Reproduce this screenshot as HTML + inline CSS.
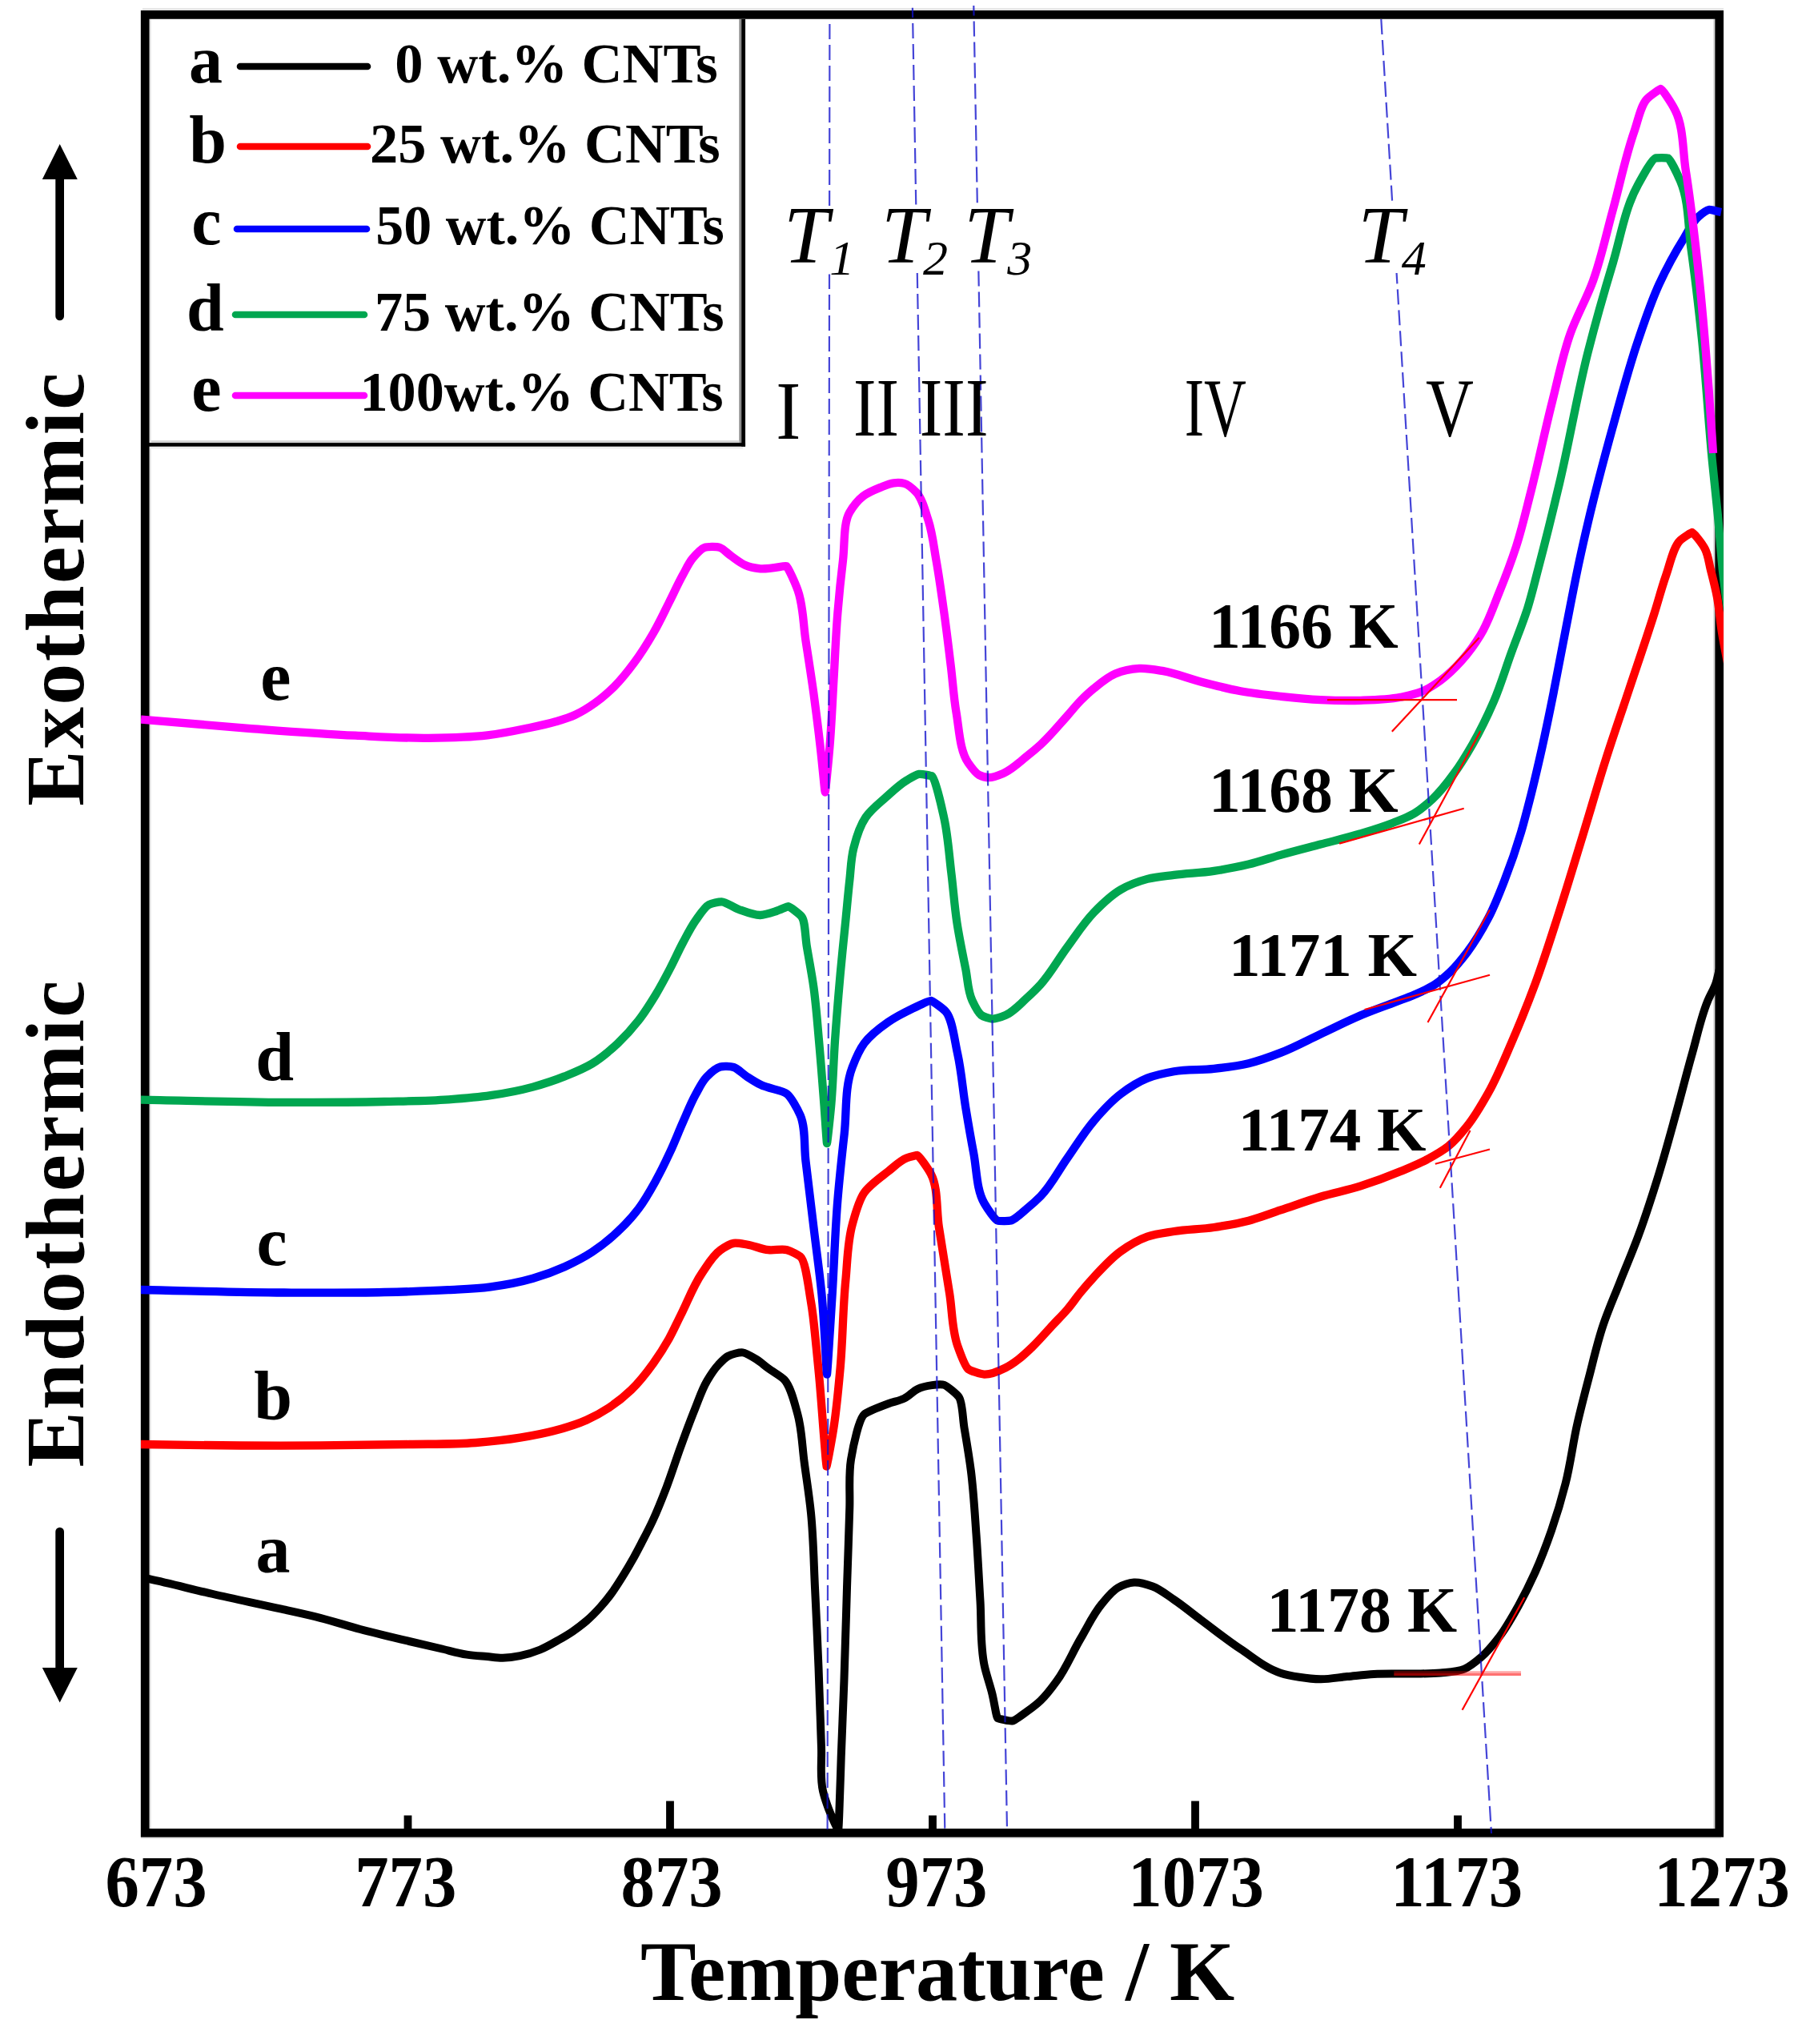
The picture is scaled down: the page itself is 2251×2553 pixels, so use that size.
<!DOCTYPE html>
<html lang="en"><head><meta charset="utf-8"><title>DSC curves</title>
<style>html,body{margin:0;padding:0;background:#fff}svg{display:block}text{font-family:"Liberation Serif",serif;fill:#000}</style></head><body>
<svg width="2251" height="2553" viewBox="0 0 2251 2553">
<rect width="2251" height="2553" fill="#fff"/>
<defs><clipPath id="cp"><rect x="176" y="13" width="1977" height="2282"/></clipPath></defs>
<rect x="186" y="24" width="742" height="531" fill="#fff"/>
<rect x="178" y="10" width="1975" height="3" fill="#e6e6e6"/>
<rect x="186.3" y="24" width="2.4" height="2260" fill="#e2e2e2"/>
<rect x="2140.3" y="24" width="2.2" height="2260" fill="#d2d2d2"/>
<rect x="176" y="2294" width="1974" height="2.6" fill="#e2e2e2"/>
<rect x="923.3" y="24" width="3" height="529.2" fill="#8c8c8c"/>
<rect x="189" y="550.2" width="734.4" height="3" fill="#d2d2d2"/>
<rect x="186" y="557.6" width="742" height="2.9" fill="#ececec"/>
<rect x="926.2" y="24" width="4.85" height="533.7" fill="#000"/>
<rect x="186" y="553.1" width="745.05" height="4.6" fill="#000"/>
<rect x="181.2" y="18.4" width="1966.5" height="2270.9" fill="none" stroke="#000" stroke-width="10.7"/>
<rect x="504.6" y="2267.5" width="9.8" height="18.5" fill="#000"/>
<rect x="832.1" y="2249.5" width="9.8" height="36.5" fill="#000"/>
<rect x="1160.1" y="2267.5" width="9.8" height="18.5" fill="#000"/>
<rect x="1488.1" y="2249.5" width="9.8" height="36.5" fill="#000"/>
<rect x="1816.1" y="2267.5" width="9.8" height="18.5" fill="#000"/>
<g clip-path="url(#cp)" fill="none" stroke-linejoin="round" stroke-linecap="butt">
<path d="M176.0 1970.0C179.4 1970.7 182.9 1971.5 186.3 1972.2C213.0 1978.0 239.4 1984.9 266.0 1991.0C294.4 1997.5 323.0 2003.3 351.4 2009.7C367.6 2013.3 383.9 2016.7 400.0 2020.8C416.8 2025.1 433.3 2030.5 450.0 2035.0C466.6 2039.4 483.3 2043.4 500.0 2047.4C516.6 2051.4 533.3 2055.2 550.0 2059.0C561.0 2061.5 571.9 2064.9 583.1 2066.6C591.3 2067.9 599.7 2068.3 608.0 2069.0C614.7 2069.6 621.3 2070.8 628.0 2070.7C635.2 2070.6 642.6 2069.6 649.7 2068.2C658.2 2066.5 666.7 2063.8 674.7 2060.5C682.6 2057.2 690.1 2052.8 697.6 2048.5C703.6 2045.1 709.5 2041.7 715.2 2037.8C721.3 2033.7 727.2 2029.2 732.8 2024.4C739.1 2019.0 744.9 2013.0 750.4 2006.8C755.4 2001.2 760.1 1995.3 764.5 1989.2C770.0 1981.7 774.9 1973.7 779.8 1965.7C783.8 1959.1 787.7 1952.4 791.5 1945.7C795.6 1938.4 799.4 1930.9 803.3 1923.4C807.5 1915.3 811.7 1907.2 815.5 1899.0C821.9 1885.3 827.4 1871.1 832.8 1857.0C839.1 1840.4 844.3 1823.5 850.4 1806.8C856.1 1791.1 861.8 1775.3 868.1 1759.8C872.9 1748.0 876.8 1735.5 883.3 1724.6C887.4 1717.6 891.9 1710.5 897.4 1704.6C901.0 1700.8 905.2 1696.2 909.2 1694.0C914.0 1691.3 923.9 1688.9 927.9 1689.4C931.7 1689.8 939.2 1694.4 944.4 1697.6C949.9 1701.0 954.8 1705.5 960.0 1709.3C966.5 1714.1 975.5 1718.9 979.7 1723.3C987.7 1731.8 992.3 1751.7 996.4 1766.5C1001.7 1785.8 1002.0 1806.5 1004.7 1826.5C1007.5 1847.6 1010.9 1868.6 1013.0 1889.7C1016.1 1920.7 1016.5 1951.9 1018.0 1983.0C1019.6 2016.3 1021.2 2049.5 1022.5 2082.8C1023.8 2116.1 1024.8 2149.4 1026.0 2182.7C1026.7 2200.8 1023.9 2219.5 1028.0 2237.0C1029.4 2243.1 1031.4 2249.1 1033.5 2255.0C1037.2 2265.6 1046.4 2285.8 1047.0 2286.0C1047.8 2286.3 1048.6 2255.3 1049.2 2240.0C1049.8 2225.0 1050.2 2210.0 1050.7 2195.0C1051.8 2163.3 1053.3 2131.7 1054.4 2100.0C1055.8 2061.0 1056.8 2022.0 1058.0 1983.0C1059.1 1949.7 1060.3 1916.3 1061.3 1883.0C1061.9 1863.0 1059.9 1842.6 1063.0 1823.0C1066.1 1803.8 1073.1 1772.2 1079.6 1766.5C1083.2 1763.3 1099.4 1757.0 1109.6 1753.2C1116.2 1750.7 1123.4 1749.7 1129.6 1746.6C1135.6 1743.6 1140.7 1737.5 1146.2 1734.9C1155.2 1730.6 1174.5 1728.1 1179.5 1729.9C1183.0 1731.2 1195.0 1741.0 1197.8 1744.9C1202.4 1751.4 1202.4 1770.4 1204.5 1783.2C1207.5 1800.9 1210.5 1818.7 1212.8 1836.5C1216.2 1863.0 1217.6 1889.7 1219.5 1916.4C1221.5 1944.1 1222.8 1971.9 1224.5 1999.6C1226.1 2026.2 1224.2 2053.5 1229.5 2079.5C1232.0 2091.8 1236.5 2103.7 1239.5 2116.0C1241.9 2125.9 1244.7 2145.0 1246.1 2146.0C1247.0 2146.6 1261.0 2150.1 1264.4 2149.5C1268.4 2148.9 1276.8 2142.0 1282.7 2137.8C1288.7 2133.5 1294.7 2129.1 1300.0 2124.0C1307.6 2116.8 1313.9 2108.2 1320.0 2099.7C1332.0 2083.3 1339.6 2064.0 1350.0 2046.4C1358.6 2031.8 1365.7 2015.9 1376.6 2003.0C1382.6 1995.8 1389.3 1987.1 1396.6 1983.0C1402.0 1980.0 1410.8 1976.9 1416.5 1976.5C1423.0 1976.0 1432.5 1978.8 1439.8 1981.5C1449.5 1985.1 1457.8 1992.2 1466.5 1998.0C1478.0 2005.7 1488.7 2014.7 1499.8 2023.0C1516.4 2035.3 1532.5 2048.3 1549.7 2059.7C1565.9 2070.4 1581.4 2083.9 1599.7 2089.7C1607.2 2092.1 1615.2 2093.5 1623.0 2094.7C1631.8 2096.1 1640.7 2097.2 1649.6 2097.3C1660.7 2097.4 1671.8 2095.1 1682.9 2094.0C1694.0 2093.0 1705.1 2091.6 1716.2 2091.0C1732.8 2090.0 1749.5 2090.9 1766.2 2090.5C1777.3 2090.3 1788.5 2090.6 1799.5 2089.5C1809.5 2088.5 1821.0 2088.2 1829.4 2084.5C1836.4 2081.5 1843.7 2075.4 1850.0 2070.0C1858.8 2062.4 1866.3 2053.0 1873.4 2043.7C1882.4 2031.8 1889.6 2018.6 1896.9 2005.5C1904.3 1992.1 1911.1 1978.4 1917.4 1964.4C1925.1 1947.2 1931.8 1929.4 1938.0 1911.6C1944.7 1892.3 1950.6 1872.7 1955.6 1852.9C1961.8 1828.4 1964.7 1803.1 1970.3 1778.5C1974.8 1758.8 1979.9 1739.3 1985.0 1719.8C1990.6 1698.2 1995.5 1676.3 2002.6 1655.2C2008.6 1637.3 2016.3 1619.9 2023.2 1602.3C2030.9 1582.7 2039.3 1563.4 2046.6 1543.6C2055.2 1520.4 2062.7 1496.8 2070.1 1473.2C2078.6 1446.0 2086.0 1418.4 2093.6 1390.9C2100.6 1365.5 2107.0 1339.9 2114.2 1314.6C2120.3 1293.0 2124.7 1270.7 2133.3 1250.0C2136.4 1242.7 2140.7 1235.8 2143.3 1228.3C2145.3 1222.4 2146.4 1216.1 2148.0 1210.0" stroke="#000000" stroke-width="10"/>
<path d="M176.0 1804.0C217.3 1804.5 258.7 1805.3 300.0 1805.5C333.3 1805.7 366.7 1805.6 400.0 1805.4C437.0 1805.2 474.0 1804.7 511.0 1804.0C538.7 1803.5 566.6 1804.1 594.2 1802.0C612.7 1800.6 631.3 1798.7 649.7 1795.7C663.7 1793.4 677.7 1790.9 691.4 1787.3C705.5 1783.6 719.8 1779.5 733.0 1773.5C742.6 1769.1 751.9 1764.0 760.7 1758.2C770.6 1751.7 780.0 1744.2 788.5 1736.0C798.9 1726.0 807.8 1714.4 816.2 1702.7C823.2 1692.9 829.7 1682.7 835.6 1672.2C840.9 1662.7 845.3 1652.7 850.2 1643.0C859.1 1625.3 865.9 1606.3 877.0 1590.0C883.8 1580.0 890.4 1568.2 899.8 1561.5C904.6 1558.0 911.8 1553.6 916.5 1552.8C920.6 1552.1 927.6 1553.6 933.1 1554.5C942.1 1555.9 950.8 1560.2 959.8 1561.2C967.5 1562.1 976.4 1559.4 983.1 1561.2C988.4 1562.6 997.5 1567.8 999.7 1569.5C1006.4 1574.8 1009.7 1607.0 1013.0 1626.0C1016.3 1644.7 1017.7 1663.8 1019.7 1682.7C1020.9 1694.0 1022.0 1705.3 1023.0 1716.6C1025.6 1744.3 1027.4 1772.1 1029.7 1799.8C1030.6 1810.4 1032.1 1831.0 1032.4 1831.5C1032.8 1832.2 1038.9 1799.4 1041.4 1783.2C1045.3 1758.3 1047.4 1733.1 1049.7 1708.0C1052.9 1671.9 1052.8 1635.6 1056.3 1599.5C1058.6 1576.1 1058.5 1552.0 1064.7 1529.5C1068.4 1515.9 1072.6 1499.6 1079.6 1489.6C1086.2 1480.1 1099.1 1471.2 1109.6 1463.0C1117.1 1457.1 1124.1 1449.7 1132.9 1446.3C1137.1 1444.7 1145.4 1442.9 1146.2 1443.0C1147.8 1443.2 1159.0 1458.8 1162.9 1466.3C1172.1 1483.9 1169.5 1510.7 1172.9 1532.9C1177.2 1560.6 1181.9 1588.3 1186.2 1616.0C1189.6 1637.7 1189.0 1660.5 1196.2 1681.0C1199.7 1690.9 1205.3 1706.9 1209.5 1710.0C1212.3 1712.1 1224.5 1716.3 1229.5 1716.6C1236.1 1716.9 1247.9 1712.4 1256.1 1708.3C1261.7 1705.5 1267.0 1701.8 1272.0 1698.0C1278.2 1693.4 1283.8 1687.9 1289.4 1682.5C1298.8 1673.5 1307.1 1663.5 1316.0 1654.0C1321.8 1647.8 1327.8 1641.9 1333.3 1635.5C1339.2 1628.6 1344.2 1621.0 1350.0 1614.0C1355.4 1607.5 1360.9 1601.2 1366.6 1595.0C1377.1 1583.7 1387.5 1571.9 1399.9 1563.0C1410.1 1555.7 1421.4 1548.9 1433.2 1544.7C1443.7 1540.9 1455.3 1539.8 1466.5 1538.0C1483.0 1535.4 1499.9 1535.5 1516.4 1533.0C1530.9 1530.8 1545.5 1528.4 1559.7 1524.7C1573.3 1521.1 1586.4 1515.8 1599.7 1511.4C1616.3 1505.9 1632.8 1499.7 1649.6 1494.7C1666.1 1489.8 1683.2 1486.6 1699.6 1481.4C1716.5 1476.1 1733.2 1469.9 1749.5 1463.1C1760.7 1458.4 1772.1 1453.9 1782.8 1448.1C1792.0 1443.1 1801.4 1438.0 1809.4 1431.5C1818.2 1424.4 1825.6 1415.4 1832.7 1406.5C1843.0 1393.6 1851.3 1378.9 1859.4 1364.5C1870.8 1344.2 1879.4 1322.4 1888.7 1301.0C1899.1 1276.9 1908.9 1252.6 1918.0 1228.0C1928.7 1199.0 1937.9 1169.4 1947.4 1140.0C1957.5 1108.5 1967.0 1076.7 1976.7 1045.0C1986.6 1012.7 1995.8 980.2 2006.1 948.0C2015.5 918.5 2025.7 889.3 2035.4 860.0C2046.0 828.2 2056.9 796.6 2067.0 764.6C2071.8 749.4 2075.7 734.0 2081.0 719.0C2086.3 704.0 2090.3 682.8 2099.0 674.8C2102.2 671.8 2112.9 665.0 2113.8 665.0C2115.1 665.0 2126.2 678.3 2130.0 686.0C2133.9 693.8 2134.8 703.3 2137.0 712.0C2139.8 723.0 2142.7 733.9 2144.8 745.0C2147.7 759.8 2148.6 775.1 2151.0 790.0C2153.3 804.1 2156.2 818.0 2158.8 832.0" stroke="#ff0000" stroke-width="10.3"/>
<path d="M176.0 1611.0C235.7 1612.2 295.3 1614.2 355.0 1614.5C396.7 1614.7 438.3 1615.0 480.0 1614.0C506.7 1613.4 533.4 1612.8 560.0 1611.2C577.6 1610.2 595.3 1609.7 612.8 1607.3C630.6 1604.9 648.5 1601.7 665.7 1596.7C679.2 1592.8 692.5 1588.0 705.3 1582.2C717.1 1576.8 728.9 1570.8 739.7 1563.7C750.9 1556.3 761.6 1547.8 771.4 1538.6C780.9 1529.7 790.0 1519.9 797.8 1509.5C805.8 1498.8 812.4 1486.9 818.9 1475.2C825.6 1463.2 831.6 1450.7 837.4 1438.2C843.0 1426.0 847.8 1413.5 853.3 1401.2C858.4 1389.7 863.0 1377.8 869.1 1366.8C873.3 1359.3 876.9 1351.1 882.8 1345.0C887.6 1340.0 895.3 1333.7 899.8 1332.5C903.4 1331.5 912.5 1331.8 916.5 1333.0C921.4 1334.5 927.4 1341.0 933.1 1344.7C938.5 1348.2 944.0 1351.8 949.8 1354.7C960.3 1360.0 977.2 1361.5 983.1 1366.4C988.3 1370.8 995.9 1384.2 999.7 1393.0C1006.5 1409.1 1004.2 1430.7 1006.4 1449.6C1009.7 1477.4 1013.1 1505.1 1016.4 1532.9C1019.7 1560.6 1023.7 1588.3 1026.4 1616.1C1029.6 1649.5 1032.6 1716.6 1033.0 1716.6C1033.4 1716.6 1037.6 1649.5 1039.7 1616.0C1042.1 1577.2 1043.1 1538.3 1046.3 1499.6C1048.6 1471.8 1051.6 1444.0 1054.7 1416.3C1057.8 1388.5 1054.9 1358.8 1064.7 1333.0C1068.6 1322.7 1073.1 1311.8 1079.6 1303.0C1087.4 1292.5 1098.7 1284.1 1109.6 1276.5C1118.9 1270.0 1129.3 1264.8 1139.6 1259.8C1147.2 1256.1 1160.7 1249.5 1162.9 1249.8C1164.9 1250.1 1177.7 1259.5 1181.2 1263.2C1189.6 1272.2 1192.2 1298.4 1196.2 1316.4C1201.0 1338.3 1202.6 1360.8 1206.2 1383.0C1209.3 1401.9 1212.5 1420.8 1216.1 1439.6C1220.2 1460.8 1219.6 1485.8 1229.5 1502.9C1233.7 1510.1 1242.7 1523.3 1246.1 1524.5C1248.2 1525.2 1259.1 1525.5 1262.8 1524.5C1268.3 1523.1 1276.3 1514.9 1282.7 1509.6C1288.7 1504.7 1294.6 1499.5 1300.0 1494.0C1313.4 1480.2 1322.1 1462.3 1333.3 1446.5C1344.3 1430.9 1354.2 1414.2 1366.6 1399.8C1376.8 1387.9 1387.5 1375.9 1399.9 1366.5C1410.1 1358.7 1421.3 1351.4 1433.2 1346.6C1443.7 1342.4 1455.3 1340.2 1466.5 1338.2C1482.9 1335.3 1499.9 1336.8 1516.4 1334.9C1530.9 1333.3 1545.6 1331.6 1559.7 1328.2C1573.3 1324.9 1586.6 1320.0 1599.7 1314.9C1616.8 1308.3 1633.0 1299.4 1649.6 1291.6C1666.3 1283.8 1682.7 1275.4 1699.6 1268.3C1713.8 1262.3 1728.4 1257.2 1742.8 1251.7C1750.6 1248.7 1758.5 1246.0 1766.2 1242.7C1775.3 1238.7 1784.6 1234.8 1792.8 1229.4C1800.0 1224.6 1806.6 1218.8 1812.8 1212.8C1820.1 1205.7 1826.5 1197.6 1832.7 1189.5C1842.9 1176.0 1851.6 1161.2 1859.4 1146.2C1867.2 1131.2 1873.3 1115.3 1879.4 1099.6C1887.1 1079.9 1894.0 1059.9 1900.0 1039.6C1903.1 1029.2 1905.8 1018.7 1908.5 1008.2C1914.9 983.9 1920.6 959.3 1926.1 934.8C1931.3 911.4 1936.1 887.9 1940.8 864.4C1945.9 839.0 1950.5 813.5 1955.5 788.0C1961.2 758.6 1966.7 729.2 1973.0 700.0C1976.4 684.2 1980.0 668.4 1983.7 652.6C1993.2 612.4 2003.8 572.5 2014.8 532.7C2024.7 497.0 2034.1 461.1 2046.0 426.0C2054.1 402.1 2062.0 377.9 2072.5 355.0C2081.6 335.2 2092.0 315.9 2103.6 297.4C2109.2 288.4 2113.6 277.6 2121.4 270.8C2125.3 267.4 2131.9 262.5 2134.7 262.0C2137.4 261.5 2144.9 264.0 2150.0 265.0" stroke="#0000ff" stroke-width="10.3"/>
<path d="M176.0 1373.7C235.7 1374.8 295.3 1376.7 355.0 1376.9C396.7 1377.0 438.3 1376.9 480.0 1376.0C506.7 1375.4 533.4 1375.3 560.0 1373.4C577.6 1372.1 595.3 1370.8 612.8 1368.2C630.6 1365.6 648.4 1362.3 665.7 1357.6C679.1 1353.9 692.4 1349.6 705.3 1344.4C717.0 1339.7 729.0 1335.0 739.7 1328.5C751.1 1321.5 761.6 1312.6 771.4 1303.4C780.9 1294.5 789.8 1284.7 797.8 1274.4C805.6 1264.4 812.3 1253.5 818.9 1242.7C825.5 1231.8 831.5 1220.4 837.4 1209.0C842.9 1198.4 847.7 1187.5 853.3 1177.0C858.3 1167.7 863.0 1158.1 869.1 1149.5C874.0 1142.6 880.3 1132.7 885.5 1130.0C888.8 1128.3 897.8 1126.2 901.5 1126.3C906.9 1126.5 915.7 1133.3 923.1 1136.0C931.7 1139.1 942.0 1143.2 949.8 1143.0C955.6 1142.8 963.3 1140.1 969.8 1138.0C974.9 1136.3 983.2 1132.1 984.7 1132.2C986.6 1132.3 998.9 1141.8 1001.4 1145.0C1006.0 1150.9 1005.8 1170.5 1008.0 1183.2C1010.8 1199.9 1014.1 1216.5 1016.4 1233.2C1019.5 1255.3 1021.0 1277.6 1023.0 1299.8C1025.5 1327.5 1027.6 1355.3 1029.7 1383.0C1030.8 1398.0 1032.7 1428.0 1033.0 1428.0C1033.3 1428.0 1036.6 1398.0 1038.0 1383.0C1040.6 1355.3 1041.1 1327.5 1043.0 1299.8C1045.0 1272.0 1047.2 1244.2 1049.7 1216.5C1051.7 1194.3 1054.1 1172.2 1056.3 1150.0C1058.0 1133.1 1059.4 1116.2 1061.3 1099.4C1062.8 1086.0 1063.0 1072.3 1066.3 1059.4C1069.6 1046.2 1074.0 1031.7 1081.3 1021.0C1087.5 1011.8 1097.6 1004.0 1106.3 996.2C1114.8 988.6 1123.1 980.3 1132.9 974.5C1137.7 971.6 1144.0 967.5 1147.9 966.9C1151.8 966.3 1163.6 969.1 1164.5 969.5C1167.5 970.8 1175.7 1004.8 1179.5 1022.8C1184.2 1044.8 1185.6 1067.6 1188.3 1090.0C1190.9 1111.0 1192.3 1132.1 1195.5 1153.0C1198.4 1172.1 1202.4 1191.0 1206.2 1209.9C1208.9 1223.2 1208.8 1237.7 1214.5 1249.8C1217.5 1256.2 1222.3 1265.6 1226.1 1268.1C1228.6 1269.8 1235.9 1272.3 1239.5 1272.5C1243.9 1272.8 1251.1 1270.2 1256.1 1268.1C1266.0 1263.9 1274.3 1254.2 1282.7 1246.5C1288.7 1241.0 1294.5 1235.4 1300.0 1229.4C1312.8 1215.3 1321.9 1198.1 1333.3 1182.8C1344.1 1168.2 1354.0 1152.5 1366.6 1139.5C1376.7 1129.1 1387.5 1118.4 1399.9 1111.2C1410.1 1105.3 1421.7 1101.0 1433.2 1097.9C1444.0 1095.0 1455.4 1094.3 1466.5 1092.9C1483.1 1090.7 1499.9 1090.4 1516.4 1087.9C1530.9 1085.7 1545.4 1083.1 1559.7 1079.6C1573.2 1076.3 1586.3 1071.7 1599.7 1067.9C1616.3 1063.2 1633.0 1059.0 1649.6 1054.6C1666.3 1050.2 1683.1 1046.3 1699.6 1041.3C1713.0 1037.2 1726.5 1033.1 1739.5 1028.0C1748.5 1024.4 1757.9 1021.2 1766.2 1016.3C1774.6 1011.3 1782.3 1004.7 1789.5 998.0C1799.5 988.6 1808.0 977.5 1816.1 966.4C1824.7 954.8 1832.2 942.2 1839.4 929.7C1849.3 912.4 1858.1 894.3 1866.0 876.0C1874.5 856.2 1880.6 835.3 1888.0 815.0C1894.8 796.2 1902.6 777.7 1908.5 758.7C1913.5 742.7 1917.3 726.3 1921.6 710.0C1930.9 674.7 1939.6 639.3 1948.0 603.8C1960.9 549.3 1969.9 493.8 1983.7 439.5C1993.2 402.3 2003.7 365.3 2014.8 328.5C2024.6 295.8 2029.6 260.6 2046.0 231.0C2052.4 219.4 2063.9 198.6 2068.0 197.5C2069.6 197.1 2082.5 197.1 2083.6 197.5C2086.0 198.3 2094.8 216.2 2099.0 226.0C2110.1 252.0 2108.5 282.5 2112.5 310.8C2117.7 347.7 2121.9 384.7 2125.8 421.8C2131.2 473.4 2134.0 525.3 2139.0 577.0C2141.2 599.7 2143.8 622.3 2146.0 645.0C2148.3 669.3 2149.8 693.7 2152.5 718.0C2154.4 734.7 2156.7 751.3 2158.8 768.0" stroke="#00a650" stroke-width="10.3"/>
<path d="M176.0 898.7C220.9 902.4 265.8 906.4 310.8 909.8C355.2 913.1 399.6 916.6 444.0 918.7C473.5 920.1 503.1 922.0 532.7 921.8C558.1 921.6 583.7 921.5 608.8 918.4C625.2 916.4 641.5 913.2 657.7 909.8C670.0 907.3 682.3 904.9 694.3 901.3C702.5 898.8 710.9 896.3 718.7 892.7C727.3 888.7 735.4 883.6 743.1 878.1C751.8 871.9 759.9 864.8 767.5 857.3C776.5 848.4 784.4 838.2 792.0 828.0C800.9 816.0 808.9 803.2 816.4 790.2C823.5 777.9 829.5 765.0 835.9 752.3C841.7 740.9 846.8 729.2 853.0 718.1C856.9 711.1 860.1 703.5 865.2 697.4C869.4 692.4 876.3 685.4 879.9 684.0C883.4 682.7 895.2 682.5 899.4 684.0C903.4 685.4 909.0 691.4 914.0 694.9C919.6 698.8 924.9 703.3 931.1 705.9C936.4 708.1 942.5 709.3 948.2 710.1C959.4 711.6 980.8 706.1 982.4 707.1C984.0 708.0 992.8 726.7 996.5 737.0C1003.6 756.7 1003.2 778.8 1006.4 799.7C1009.8 821.9 1013.3 844.1 1016.4 866.3C1019.4 888.5 1022.2 910.7 1024.7 932.9C1026.9 951.7 1030.3 989.5 1030.7 989.5C1031.1 989.5 1034.8 951.8 1036.4 932.9C1038.7 905.2 1039.8 877.4 1041.4 849.7C1043.1 821.9 1044.0 794.1 1046.3 766.4C1048.1 744.2 1050.3 721.9 1053.0 699.8C1055.4 679.8 1053.3 653.6 1061.3 639.9C1064.8 634.0 1071.5 625.0 1078.0 619.9C1084.1 615.1 1092.1 611.9 1099.6 608.9C1105.0 606.7 1110.6 604.0 1116.3 603.3C1120.6 602.8 1126.4 603.0 1129.6 603.9C1134.1 605.2 1141.1 611.3 1144.6 614.9C1151.8 622.4 1155.7 637.9 1159.6 649.9C1164.8 665.9 1166.5 683.1 1169.5 699.8C1173.4 721.9 1176.4 744.2 1179.5 766.4C1182.6 788.6 1185.2 810.8 1187.9 833.0C1190.2 851.9 1191.3 870.9 1194.5 889.6C1198.2 910.9 1198.7 937.5 1209.5 952.9C1212.8 957.6 1218.5 965.6 1222.8 967.9C1225.8 969.5 1232.4 971.2 1236.1 971.2C1240.8 971.2 1247.5 968.4 1252.8 966.2C1264.0 961.5 1273.1 952.3 1282.7 944.6C1288.6 939.9 1294.4 935.1 1300.0 930.0C1312.1 919.0 1322.4 906.2 1333.3 894.0C1338.9 887.7 1344.1 881.0 1350.0 875.0C1355.3 869.7 1360.8 864.5 1366.6 859.8C1374.9 853.0 1383.5 845.6 1393.2 841.5C1402.4 837.6 1413.1 835.4 1423.2 834.9C1433.1 834.4 1443.3 836.5 1453.2 838.2C1469.1 841.0 1484.2 847.4 1499.8 851.5C1516.3 855.8 1532.9 860.1 1549.7 863.2C1566.2 866.2 1583.0 868.0 1599.7 869.8C1616.3 871.6 1632.9 873.3 1649.6 874.1C1666.2 874.9 1683.0 875.3 1699.6 874.8C1716.3 874.3 1733.2 874.0 1749.5 870.8C1758.5 869.0 1767.7 867.3 1776.1 863.8C1784.4 860.3 1792.2 855.1 1799.5 849.8C1809.3 842.7 1818.0 833.9 1826.1 824.9C1834.8 815.2 1842.6 804.4 1849.4 793.2C1859.4 776.7 1865.4 757.9 1872.7 740.0C1880.4 721.1 1887.7 701.9 1894.0 682.5C1901.4 659.6 1906.7 636.0 1912.7 612.6C1922.1 575.8 1929.7 538.5 1939.0 501.7C1946.2 473.4 1951.8 444.5 1961.5 417.0C1969.5 394.4 1981.8 373.3 1990.0 350.7C2000.4 321.9 2006.6 291.6 2014.8 262.0C2023.8 229.4 2030.3 195.9 2041.5 164.0C2046.2 150.5 2049.5 132.1 2057.0 124.0C2060.9 119.8 2073.7 111.0 2074.7 111.0C2076.2 111.0 2087.9 128.6 2092.5 137.6C2103.4 159.2 2101.8 187.8 2105.8 213.0C2112.1 252.8 2116.6 292.9 2121.0 333.0C2126.7 384.5 2130.8 436.3 2134.7 488.0C2136.6 514.0 2138.2 540.0 2140.0 566.0" stroke="#ff00ff" stroke-width="10.3"/>
</g>
<g>
<line x1="1036.4" y1="30" x2="1033.6" y2="2285" stroke-dashoffset="0" stroke="#0f0fcc" stroke-opacity="0.78" stroke-width="2.2" stroke-dasharray="19 7" fill="none"/>
<line x1="1139.9" y1="9.8" x2="1180.3" y2="2285" stroke-dashoffset="6.8" stroke="#0f0fcc" stroke-opacity="0.78" stroke-width="2.2" stroke-dasharray="19 7" fill="none"/>
<line x1="1216.3" y1="7.1" x2="1258" y2="2285" stroke-dashoffset="6.5" stroke="#0f0fcc" stroke-opacity="0.78" stroke-width="2.2" stroke-dasharray="19 7" fill="none"/>
<line x1="1725.3" y1="24" x2="1863" y2="2290" stroke-dashoffset="0" stroke="#0f0fcc" stroke-opacity="0.78" stroke-width="2.2" stroke-dasharray="19 7" fill="none"/>
</g>
<line x1="1741.3" y1="2088.6" x2="1900" y2="2088.6" stroke="#ff0000" stroke-opacity="0.35" stroke-width="2.8"/>
<line x1="1741.3" y1="2091.5" x2="1900" y2="2091.5" stroke="#ff0000" stroke-opacity="0.56" stroke-width="3"/>
<line x1="1658" y1="874.1" x2="1820" y2="874.1" stroke="#ff0000" stroke-width="2.2" fill="none"/>
<line x1="1738.8" y1="913.8" x2="1847.7" y2="796.6" stroke="#ff0000" stroke-width="2.2" fill="none"/>
<line x1="1673" y1="1053.6" x2="1828.7" y2="1009.7" stroke="#ff0000" stroke-width="2.2" fill="none"/>
<line x1="1772.8" y1="1054.6" x2="1849.4" y2="913" stroke="#ff0000" stroke-width="2.2" fill="none"/>
<line x1="1704.6" y1="1261" x2="1861" y2="1217.8" stroke="#ff0000" stroke-width="2.2" fill="none"/>
<line x1="1783.5" y1="1277" x2="1861" y2="1136.2" stroke="#ff0000" stroke-width="2.2" fill="none"/>
<line x1="1792.8" y1="1453.8" x2="1861" y2="1435.5" stroke="#ff0000" stroke-width="2.2" fill="none"/>
<line x1="1798.8" y1="1483.7" x2="1836.5" y2="1412" stroke="#ff0000" stroke-width="2.2" fill="none"/>
<line x1="1826.6" y1="2135.8" x2="1904.2" y2="1995.3" stroke="#ff0000" stroke-width="2.2" fill="none"/>
<line x1="300" y1="83" x2="459" y2="83" stroke="#000000" stroke-width="8.6" stroke-linecap="round"/>
<text transform="translate(235.91 103.00) scale(1.0000 1)" font-size="84.00" style="font-weight:bold" >a</text>
<text transform="translate(493.35 103.00) scale(1.0000 1)" font-size="70.59" style="font-weight:bold" >0 wt.% CNTs</text>
<line x1="300" y1="183" x2="459" y2="183" stroke="#ff0000" stroke-width="8.6" stroke-linecap="round"/>
<text transform="translate(236.19 202.50) scale(1.0000 1)" font-size="84.00" style="font-weight:bold" >b</text>
<text transform="translate(462.01 202.50) scale(1.0000 1)" font-size="70.44" style="font-weight:bold" >25 wt.% CNTs</text>
<line x1="296" y1="286" x2="458" y2="286" stroke="#0000ff" stroke-width="8.6" stroke-linecap="round"/>
<text transform="translate(239.24 305.00) scale(1.0000 1)" font-size="84.00" style="font-weight:bold" >c</text>
<text transform="translate(469.20 305.00) scale(1.0000 1)" font-size="70.08" style="font-weight:bold" >50 wt.% CNTs</text>
<line x1="294" y1="393" x2="455" y2="393" stroke="#00a650" stroke-width="8.6" stroke-linecap="round"/>
<text transform="translate(233.03 413.00) scale(1.0000 1)" font-size="84.00" style="font-weight:bold" >d</text>
<text transform="translate(467.96 413.00) scale(1.0000 1)" font-size="70.28" style="font-weight:bold" >75 wt.% CNTs</text>
<line x1="294" y1="494" x2="455" y2="494" stroke="#ff00ff" stroke-width="8.6" stroke-linecap="round"/>
<text transform="translate(239.35 513.00) scale(1.0000 1)" font-size="84.00" style="font-weight:bold" >e</text>
<text transform="translate(449.38 513.00) scale(1.0000 1)" font-size="70.28" style="font-weight:bold" >100wt.% CNTs</text>
<rect x="984" y="257.5" width="77.90000000000009" height="85.0" fill="#fff"/>
<text style="font-style:italic"><tspan x="979.11" y="328" font-size="101">T</tspan><tspan x="1036.15" y="343" font-size="62">1</tspan></text>
<rect x="1105.8" y="255.5" width="77.0" height="85.0" fill="#fff"/>
<text style="font-style:italic"><tspan x="1100.96" y="328" font-size="101">T</tspan><tspan x="1153.00" y="343" font-size="62">2</tspan></text>
<rect x="1208.7" y="253.5" width="79.89999999999986" height="84.5" fill="#fff"/>
<text style="font-style:italic"><tspan x="1204.36" y="328" font-size="101">T</tspan><tspan x="1258.31" y="343" font-size="62">3</tspan></text>
<rect x="1701.5" y="256" width="80.5" height="85" fill="#fff"/>
<text style="font-style:italic"><tspan x="1696.41" y="328" font-size="101">T</tspan><tspan x="1750.87" y="343" font-size="62">4</tspan></text>
<text transform="translate(969.13 548.30) scale(0.8974 1)" font-size="104.00" style="" >I</text>
<text transform="translate(1065.91 544.00) scale(0.8226 1)" font-size="104.00" style="" >II</text>
<text transform="translate(1148.80 544.00) scale(0.8242 1)" font-size="104.00" style="" >III</text>
<text transform="translate(1479.64 544.30) scale(0.7034 1)" font-size="104.00" style="" >IV</text>
<text transform="translate(1781.07 544.30) scale(0.7981 1)" font-size="104.00" style="" >V</text>
<text transform="translate(1510.03 809.20) scale(1.0000 1)" font-size="79.65" style="font-weight:bold" >1166 K</text>
<text transform="translate(1510.03 1014.00) scale(1.0000 1)" font-size="79.65" style="font-weight:bold" >1168 K</text>
<text transform="translate(1535.07 1219.40) scale(1.0000 1)" font-size="79.06" style="font-weight:bold" >1171 K</text>
<text transform="translate(1546.68 1436.50) scale(1.0000 1)" font-size="79.03" style="font-weight:bold" >1174 K</text>
<text transform="translate(1582.61 2038.00) scale(1.0000 1)" font-size="79.86" style="font-weight:bold" >1178 K</text>
<text transform="translate(325.24 874.00) scale(1.0000 1)" font-size="86.00" style="font-weight:bold" >e</text>
<text transform="translate(319.35 1349.00) scale(1.0000 1)" font-size="86.00" style="font-weight:bold" >d</text>
<text transform="translate(320.44 1580.00) scale(1.0000 1)" font-size="86.00" style="font-weight:bold" >c</text>
<text transform="translate(317.37 1771.70) scale(1.0000 1)" font-size="86.00" style="font-weight:bold" >b</text>
<text transform="translate(319.50 1964.00) scale(1.0000 1)" font-size="86.00" style="font-weight:bold" >a</text>
<text transform="translate(131.40 2381.00) scale(0.9268 1)" font-size="91.50" style="font-weight:bold" >673</text>
<text transform="translate(443.15 2381.00) scale(0.9268 1)" font-size="91.50" style="font-weight:bold" >773</text>
<text transform="translate(775.51 2381.00) scale(0.9268 1)" font-size="91.50" style="font-weight:bold" >873</text>
<text transform="translate(1106.32 2381.00) scale(0.9268 1)" font-size="91.50" style="font-weight:bold" >973</text>
<text transform="translate(1409.29 2381.00) scale(0.9268 1)" font-size="91.50" style="font-weight:bold" >1073</text>
<text transform="translate(1737.32 2381.00) scale(0.9268 1)" font-size="91.50" style="font-weight:bold" >1173</text>
<text transform="translate(2066.29 2381.00) scale(0.9268 1)" font-size="91.50" style="font-weight:bold" >1273</text>
<text transform="translate(799.93 2498.00) scale(0.9850 1)" font-size="106.00" style="font-weight:bold" >Temperature / K</text>
<text transform="translate(104 1005) rotate(-90)" x="-1.82" y="0" font-size="104" style="font-weight:bold;letter-spacing:2.38px">Exothermic</text>
<text transform="translate(104 1830.7) rotate(-90)" x="-1.82" y="0" font-size="104" style="font-weight:bold;letter-spacing:2.44px">Endothermic</text>
<path d="M69.3 395V224H52.8L74.7 180L96.8 224H80V395A5.35 5.35 0 0 1 69.3 395Z" fill="#000"/>
<path d="M69.3 1913V2083H52.8L74.7 2126.5L96.8 2083H80V1913A5.35 5.35 0 0 0 69.3 1913Z" fill="#000"/>
</svg></body></html>
